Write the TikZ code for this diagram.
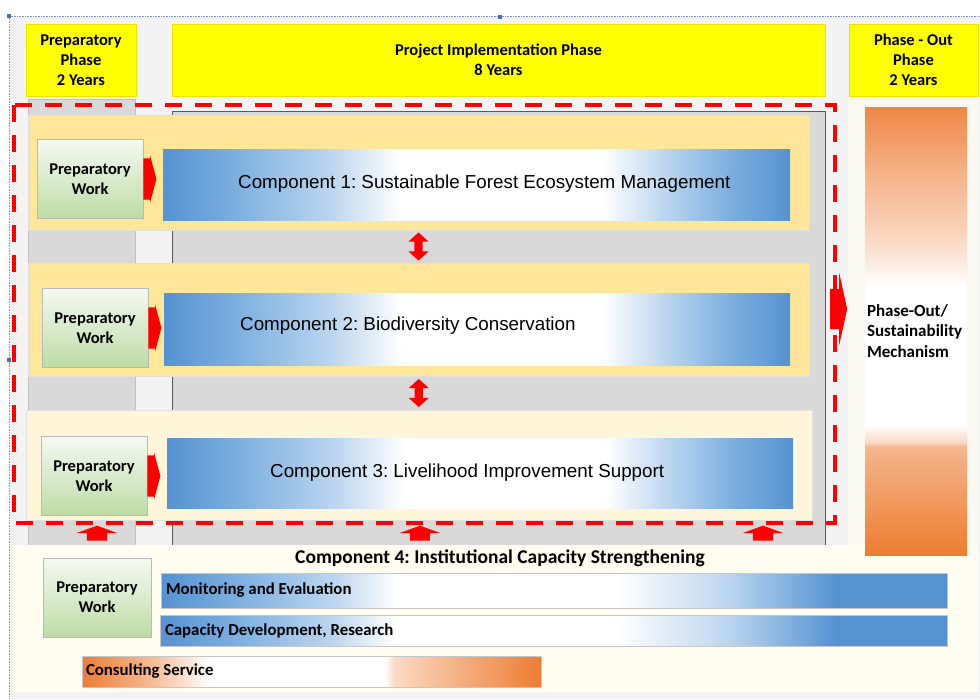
\documentclass[tikz,border=0pt]{standalone}
\usepackage{fontspec}
\setmainfont{Carlito}
\newfontfamily\arialfont{Liberation Sans}
\usetikzlibrary{shapes.arrows, calc, positioning}
\frenchspacing

\definecolor{hdyellow}{HTML}{FFFF00}
\definecolor{hdedge}{HTML}{F0E000}
\definecolor{bggray}{HTML}{F3F3F3}
\definecolor{bgcream}{HTML}{FFFCF0}
\definecolor{colgray}{HTML}{D9D9D9}
\definecolor{rowgold}{HTML}{FFE699}
\definecolor{rowpale}{HTML}{FFF5D8}
\definecolor{compblue}{HTML}{5592D2}
\definecolor{bluemid}{HTML}{7EB0E0}
\definecolor{bluelight}{HTML}{BCD6EF}
\definecolor{outorange}{HTML}{ED7D31}
\definecolor{outtop}{HTML}{EE8746}
\definecolor{outmid}{HTML}{F5B58C}
\definecolor{outpale}{HTML}{FAD9C4}
\definecolor{prepgreen}{HTML}{BCDCA6}
\definecolor{prepwhite}{HTML}{F5F9F1}
\definecolor{handleblue}{HTML}{4F6F9F}

\pgfdeclarehorizontalshading{compshade}{100bp}{color(0bp)=(compblue); color(25bp)=(compblue); color(31bp)=(bluemid); color(38.5bp)=(bluelight); color(44bp)=(white); color(60bp)=(white); color(65bp)=(bluelight); color(70bp)=(bluemid); color(75bp)=(compblue); color(100bp)=(compblue)}
\pgfdeclarehorizontalshading{barshade}{100bp}{color(0bp)=(compblue); color(25bp)=(compblue); color(30bp)=(bluemid); color(36bp)=(bluelight); color(40bp)=(white); color(54bp)=(white); color(61bp)=(bluelight); color(68bp)=(compblue); color(100bp)=(compblue)}
\pgfdeclarehorizontalshading{consshade}{100bp}{color(0bp)=(outorange); color(25bp)=(outorange); color(32bp)=(outmid); color(39bp)=(white); color(58bp)=(white); color(59bp)=(outpale); color(75bp)=(outorange); color(100bp)=(outorange)}
\pgfdeclareverticalshading{outshade}{100bp}{color(0bp)=(outorange); color(25bp)=(outorange); color(37bp)=(outmid); color(37.6bp)=(outpale); color(39.5bp)=(white); color(55bp)=(white); color(60bp)=(outpale); color(67bp)=(outmid); color(75bp)=(outtop); color(100bp)=(outtop)}

\tikzset{
  phasebox/.style={draw=hdedge, fill=hdyellow, align=center, minimum height=72pt,
    font=\bfseries\fontsize{16.5}{20}\selectfont},
  rowband/.style={draw=black!12, minimum height=113pt},
  prepbox/.style={draw=gray!55, top color=prepwhite, bottom color=prepgreen, align=center,
    minimum width=106pt, minimum height=79pt, font=\bfseries\fontsize{16.5}{20}\selectfont},
  compbar/.style={shading=compshade, minimum width=626pt, minimum height=71pt},
  comptext/.style={anchor=west, inner sep=0pt, font=\arialfont\fontsize{18.8}{23}\selectfont},
  c4bar/.style={draw=gray!45, shading=barshade},
  bartext/.style={anchor=west, inner sep=0pt, font=\bfseries\fontsize{16.8}{19}\selectfont},
  rightarrow/.style={shape=single arrow, fill=red, inner xsep=0pt, inner ysep=20.5pt, anchor=west,
    minimum height=13pt, single arrow head extend=3pt, single arrow tip angle=150},
  dblarrow/.style={shape=double arrow, rotate=90, fill=red, inner xsep=0pt, inner ysep=4pt,
    minimum height=28pt, double arrow head extend=6pt, double arrow tip angle=96},
  uparrow/.style={shape=single arrow, rotate=90, fill=red, inner xsep=0pt, inner ysep=10pt,
    minimum height=15pt, single arrow head extend=10pt, single arrow tip angle=140},
  bigarrow/.style={shape=single arrow, fill=red, inner xsep=0pt, inner ysep=20pt, anchor=west,
    minimum height=17pt, single arrow head extend=16pt, single arrow tip angle=155},
  reddash/.style={draw=red, line width=4pt, dash pattern=on 17pt off 13pt},
  framedot/.style={draw=handleblue!70, densely dotted, line width=0.6pt}
}

\begin{document}
\begin{tikzpicture}[x=1pt, y=-1pt]
\useasboundingbox (0,0) rectangle (980,699);
%background and selection frame
\fill[white] (0,0) rectangle (980,699);
\fill[bggray] (10,17) rectangle (980,699);
\fill[bgcream] (12,545) rectangle (978,692);
\fill[bgcream!50!bggray] (848,100) rectangle (978,545);
\draw[framedot] (9,16) -- (980,16);
\draw[framedot] (9,16) -- (9,699);
\foreach \hx/\hy in {9/16, 500/17, 9/360}
  \fill[handleblue] (\hx-2,\hy-2) rectangle (\hx+2,\hy+2);

%phase headers
\node[phasebox, minimum width=110pt] (prephase) at (81,60) {Preparatory\\Phase\\2 Years};
\node[phasebox, minimum width=653pt] (implphase) at (498.5,60) {Project Implementation Phase\\8 Years};
\node[phasebox, minimum width=129pt] (outphase) at (913.5,60) {Phase - Out\\Phase\\2 Years};

%gray columns under the headers
\draw[draw=black!25, fill=colgray] (28,545) -- (28,99) -- (135,99) -- (135,545);
\draw[draw=black!65, fill=colgray] (172,545) -- (172,111) -- (825,111) -- (825,545);

%component rows
\node[rowband, fill=rowgold, minimum width=781pt, minimum height=115pt] (rowA) at (418.5,172.5) {};
\node[rowband, fill=rowgold, minimum width=781pt] (rowB) at (418.5,319.5) {};
\node[rowband, fill=rowpale, minimum width=786pt, minimum height=110pt] (rowC) at (419,465) {};

\node[prepbox] (prepA) at (90,179) {Preparatory\\Work};
\node[prepbox] (prepB) at (95,328) {Preparatory\\Work};
\node[prepbox] (prepC) at (94,476) {Preparatory\\Work};

\node[compbar, minimum width=627pt] (compA) at (476.5,184.5) {};
\node[compbar, minimum height=72pt] (compB) at (477,329) {};
\node[compbar, minimum height=70pt] (compC) at (480,473) {};
\node[comptext] at (238,184) {Component 1: Sustainable Forest Ecosystem Management};
\node[comptext] at (240,326) {Component 2: Biodiversity Conservation};
\node[comptext] at (270,473) {Component 3: Livelihood Improvement Support};

%arrows inside the rows
\node[rightarrow] (goA) at (prepA.east) {};
\node[rightarrow] (goB) at (prepB.east) {};
\node[rightarrow] (goC) at (prepC.east) {};
\node[dblarrow] (linkAB) at ($(rowA.south)!0.5!(rowB.north)$) {};
\node[dblarrow] (linkBC) at ($(rowB.south)!0.5!(rowC.north)$) {};

%phase-out column
\node[shading=outshade, minimum width=102pt, minimum height=448pt] (outbar) at (916,331) {};
\node[anchor=west, align=left, inner sep=0pt, font=\bfseries\fontsize{17}{20.5}\selectfont]
  (outtext) at ([xshift=2pt]outbar.west) {Phase-Out/\\Sustainability\\Mechanism};
\node[bigarrow] (toout) at (830,309) {};

%dashed frame round the three components
\draw[reddash] (14,105) rectangle (835,523);
\foreach \ux [count=\ui] in {97,420,763}
  \node[uparrow] (up\ui) at (\ux,535) {};

%component 4
\node[font=\bfseries\fontsize{19.5}{22}\selectfont] (comp4) at (500,558)
  {Component 4: Institutional Capacity Strengthening};
\node[prepbox, minimum width=108pt] (prepD) at (97,597.5) {Preparatory\\Work};
\node[c4bar, minimum width=786pt, minimum height=35pt] (monbar) at (554,590.5) {};
\node[c4bar, minimum width=787pt, minimum height=31pt] (capbar) at (553.5,630.5) {};
\node[c4bar, shading=consshade, minimum width=459pt, minimum height=31pt] (consbar) at (311.5,671.5) {};
\node[bartext] at ([xshift=5pt]monbar.west) {Monitoring and Evaluation};
\node[bartext] at ([xshift=5pt]capbar.west) {Capacity Development, Research};
\node[bartext] at ([xshift=4pt]consbar.west) {Consulting Service};
\end{tikzpicture}
\end{document}
